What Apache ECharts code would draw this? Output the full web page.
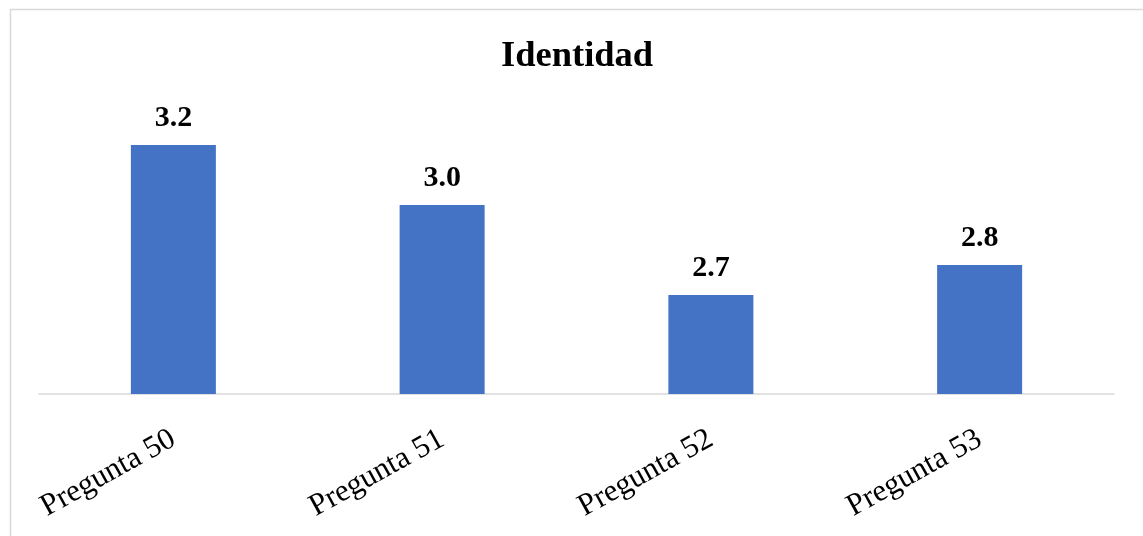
<!DOCTYPE html>
<html>
<head>
<meta charset="utf-8">
<script src="https://cdn.jsdelivr.net/npm/echarts@6/dist/echarts.min.js"></script>
<style>
  html, body { margin: 0; padding: 0; background: #ffffff; }
  #chart { width: 1143px; height: 536px; }
</style>
</head>
<body>
<div id="chart"></div>
<script>
// Category labels and mean scores per question
const categories = ['Pregunta 50', 'Pregunta 51', 'Pregunta 52', 'Pregunta 53'];
const scores = [3.2, 3.0, 2.7, 2.8];
const chartTitle = 'Identidad';

const serif = '"Liberation Serif", "Times New Roman", serif';

const chart = echarts.init(document.getElementById('chart'), null, { renderer: 'canvas' });

chart.setOption({
  backgroundColor: '#ffffff',
  animation: false,
  title: {
    text: chartTitle,
    left: 496,
    top: 33,
    textStyle: {
      fontFamily: serif,
      fontSize: 36.5,
      fontWeight: 'bold',
      color: '#000000'
    }
  },
  graphic: [{
    type: 'rect',
    silent: true,
    shape: { x: 10.5, y: 9.5, width: 1200, height: 600 },
    style: { fill: 'none', stroke: '#d9d9d9', lineWidth: 1.5 }
  }],
  grid: {
    left: 39,
    right: 29,
    top: 94,
    bottom: 142,
    containLabel: false
  },
  xAxis: {
    type: 'category',
    data: categories,
    axisLine: { show: true, lineStyle: { color: '#d9d9d9', width: 1.5 } },
    axisTick: { show: false },
    axisLabel: {
      rotate: 29,
      margin: 43,
      fontFamily: serif,
      fontSize: 31,
      color: '#000000'
    }
  },
  yAxis: {
    type: 'value',
    min: 2.37,
    max: 3.37,
    show: false,
    splitLine: { show: false }
  },
  series: [{
    type: 'bar',
    data: scores,
    barWidth: 85,
    itemStyle: { color: '#4472c4' },
    label: {
      show: true,
      position: 'top',
      distance: 12,
      formatter: (p) => p.value.toFixed(1),
      fontFamily: serif,
      fontSize: 30,
      fontWeight: 'bold',
      color: '#000000'
    }
  }]
});
</script>
</body>
</html>
